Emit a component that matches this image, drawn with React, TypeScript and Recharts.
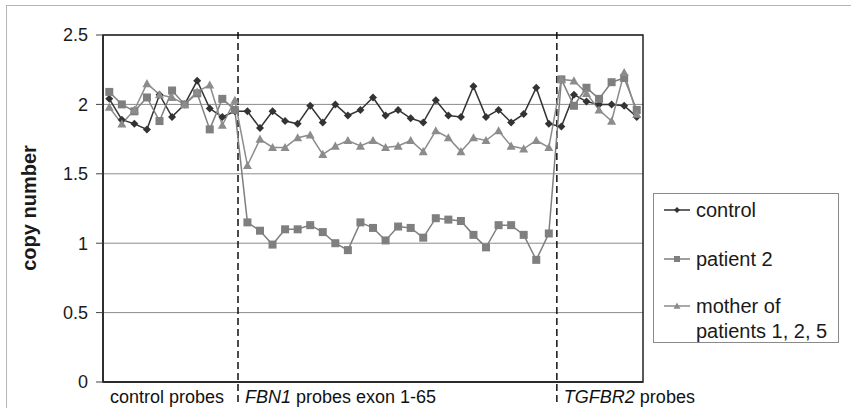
import React from "react";
import {
  LineChart,
  Line,
  XAxis,
  YAxis,
  CartesianGrid,
  ReferenceLine,
  ReferenceArea,
  Legend,
} from "recharts";

// ---- data ----
const control = [
  2.04, 1.89, 1.86, 1.82, 2.07, 1.91, 2.0, 2.17, 1.97, 1.91, 1.95,
  1.95, 1.83, 1.95, 1.88, 1.86, 1.99, 1.87, 2.0, 1.92, 1.96, 2.05, 1.92, 1.96, 1.9, 1.87,
  2.03, 1.92, 1.91, 2.13, 1.91, 1.96, 1.87, 1.93, 2.12, 1.86,
  1.84, 2.07, 2.02, 2.0, 2.0, 1.99, 1.91,
];
const patient2 = [
  2.09, 2.0, 1.95, 2.05, 1.88, 2.1, 2.0, 2.08, 1.82, 2.04, 1.96,
  1.15, 1.09, 0.99, 1.1, 1.1, 1.13, 1.08, 1.0, 0.95, 1.15, 1.11, 1.02, 1.12, 1.11, 1.04,
  1.18, 1.17, 1.16, 1.06, 0.97, 1.13, 1.13, 1.06, 0.88, 1.07,
  2.18, 1.99, 2.12, 2.04, 2.16, 2.19, 1.96,
];
const mother = [
  1.98, 1.86, 1.96, 2.15, 2.07, 2.05, 2.0, 2.09, 2.14, 1.85, 2.03,
  1.56, 1.75, 1.69, 1.69, 1.76, 1.78, 1.64, 1.7, 1.74, 1.7, 1.74, 1.69, 1.7, 1.74, 1.66,
  1.81, 1.76, 1.66, 1.76, 1.74, 1.81, 1.7, 1.68, 1.74, 1.69,
  2.18, 2.17, 2.08, 1.96, 1.88, 2.23, 1.93,
];
const seriesNames = ["control", "patient 2", "mother of patients 1, 2, 5"];
const yTicks = [0, 0.5, 1, 1.5, 2, 2.5];
// section boundaries (in probe-index units) and labels
const sectionStarts = [-0.5, 10.25, 35.64];
const sectionItalic = ["", "FBN1", "TGFBR2"];
const sectionText = ["control probes", " probes exon 1-65", " probes"];
const boundaries = [10.25, 35.64];

const data = control.map((c, i) => ({
  idx: i,
  control: c,
  patient2: patient2[i],
  mother: mother[i],
}));

const FONT = "'Liberation Sans', Arial, sans-serif";
const C_CONTROL = "#333333";
const C_PATIENT = "#7f7f7f";
const C_MOTHER = "#8c8c8c";

const Diamond = ({ cx, cy, fill, s = 4 }: any) => (
  <polygon
    points={`${cx},${cy - s} ${cx + s},${cy} ${cx},${cy + s} ${cx - s},${cy}`}
    fill={fill}
  />
);
const Square = ({ cx, cy, fill, s = 4 }: any) => (
  <rect x={cx - s} y={cy - s} width={2 * s} height={2 * s} fill={fill} />
);
const Triangle = ({ cx, cy, fill, s = 4.5 }: any) => (
  <polygon
    points={`${cx},${cy - s} ${cx + s},${cy + s * 0.8} ${cx - s},${cy + s * 0.8}`}
    fill={fill}
  />
);

const SectionTick = (props: any) => {
  const { x, y, index } = props;
  return (
    <text x={x + 7} y={y + 13} fontSize={18} fontFamily={FONT} fill="#111" textAnchor="start">
      {sectionItalic[index] ? <tspan fontStyle="italic">{sectionItalic[index]}</tspan> : null}
      <tspan>{sectionText[index]}</tspan>
    </text>
  );
};

const DashedBoundary = (props: any) => {
  const { x1, y1, x2, y2 } = props;
  const top = Math.min(y1, y2);
  const bot = Math.max(y1, y2);
  return (
    <line
      x1={x1}
      x2={x2}
      y1={top - 3}
      y2={bot + 22}
      stroke="#111"
      strokeWidth={1.5}
      strokeDasharray="7 4"
    />
  );
};

const LegendBox = () => {
  const rowText = { fontSize: 20, fontFamily: FONT, fill: "#1a1a1a" };
  return (
    <div
      style={{
        width: 186,
        height: 150,
        border: "1px solid #8a8a8a",
        background: "#fff",
        boxSizing: "border-box",
      }}
    >
      <svg width={186} height={150}>
        <line x1={10} x2={36} y1={16} y2={16} stroke={C_CONTROL} strokeWidth={1.5} />
        <Diamond cx={23} cy={16} fill={C_CONTROL} s={3} />
        <text x={42} y={16} dominantBaseline="central" {...rowText}>{seriesNames[0]}</text>
        <line x1={10} x2={36} y1={65} y2={65} stroke={C_PATIENT} strokeWidth={1.5} />
        <Square cx={23} cy={65} fill={C_PATIENT} s={3} />
        <text x={42} y={65} dominantBaseline="central" {...rowText}>{seriesNames[1]}</text>
        <line x1={10} x2={36} y1={112} y2={112} stroke={C_MOTHER} strokeWidth={1.5} />
        <Triangle cx={23} cy={112} fill={C_MOTHER} s={3.5} />
        <text x={42} y={112} dominantBaseline="central" {...rowText}>mother of</text>
        <text x={42} y={137} dominantBaseline="central" {...rowText}>patients 1, 2, 5</text>
      </svg>
    </div>
  );
};

export default function App() {
  return (
    <div
      style={{
        position: "absolute",
        left: 0,
        top: 0,
        width: 851,
        height: 408,
        background: "#fff",
        overflow: "hidden",
      }}
    >
      <div
        style={{
          position: "absolute",
          left: 6,
          top: 5,
          right: -10,
          bottom: -10,
          borderTop: "1.5px solid #b5b5b5",
          borderLeft: "1.5px solid #b5b5b5",
        }}
      />
      <div style={{ position: "absolute", left: 0, top: 0 }}>
        <LineChart
          width={851}
          height={408}
          data={data}
          margin={{ top: 35, right: 208, bottom: 0, left: 0 }}
        >
          <CartesianGrid horizontal vertical={false} stroke="#8c8c8c" strokeWidth={1} />
          <ReferenceArea
            x1={-0.5}
            x2={42.5}
            y1={0}
            y2={2.5}
            fill="none"
            stroke="#222"
            strokeWidth={1.5}
            fillOpacity={0}
          />
          <XAxis
            dataKey="idx"
            type="number"
            domain={[-0.5, 42.5]}
            allowDataOverflow
            ticks={sectionStarts}
            interval={0}
            tickLine={false}
            axisLine={{ stroke: "#222", strokeWidth: 1.5 }}
            tick={<SectionTick />}
            height={26}
          />
          <YAxis
            type="number"
            domain={[0, 2.5]}
            ticks={yTicks}
            width={103}
            tickSize={7}
            tickMargin={8}
            axisLine={{ stroke: "#222", strokeWidth: 1.5 }}
            tickLine={{ stroke: "#444" }}
            tick={{ fontSize: 18, fontFamily: FONT, fill: "#1a1a1a" }}
            label={{
              content: () => (
                <text
                  transform="translate(29,208) rotate(-90)"
                  textAnchor="middle"
                  dominantBaseline="central"
                  fontSize={20}
                  fontWeight="bold"
                  fontFamily={FONT}
                  fill="#1a1a1a"
                >
                  copy number
                </text>
              ),
            }}
          />
          {boundaries.map((b) => (
            <ReferenceLine key={b} x={b} shape={<DashedBoundary />} ifOverflow="visible" />
          ))}
          <Line
            dataKey="control"
            name={seriesNames[0]}
            stroke={C_CONTROL}
            strokeWidth={1.5}
            isAnimationActive={false}
            dot={(p: any) => <Diamond key={`c${p.index}`} cx={p.cx} cy={p.cy} fill={C_CONTROL} />}
          />
          <Line
            dataKey="patient2"
            name={seriesNames[1]}
            stroke={C_PATIENT}
            strokeWidth={1.5}
            isAnimationActive={false}
            dot={(p: any) => <Square key={`p${p.index}`} cx={p.cx} cy={p.cy} fill={C_PATIENT} />}
          />
          <Line
            dataKey="mother"
            name={seriesNames[2]}
            stroke={C_MOTHER}
            strokeWidth={1.5}
            isAnimationActive={false}
            dot={(p: any) => <Triangle key={`m${p.index}`} cx={p.cx} cy={p.cy} fill={C_MOTHER} />}
          />
          <Legend
            layout="horizontal"
            verticalAlign="middle"
            align="center"
            content={<LegendBox />}
            wrapperStyle={{ left: 653, top: 193, width: 187, height: 151 }}
          />
        </LineChart>
      </div>
    </div>
  );
}
